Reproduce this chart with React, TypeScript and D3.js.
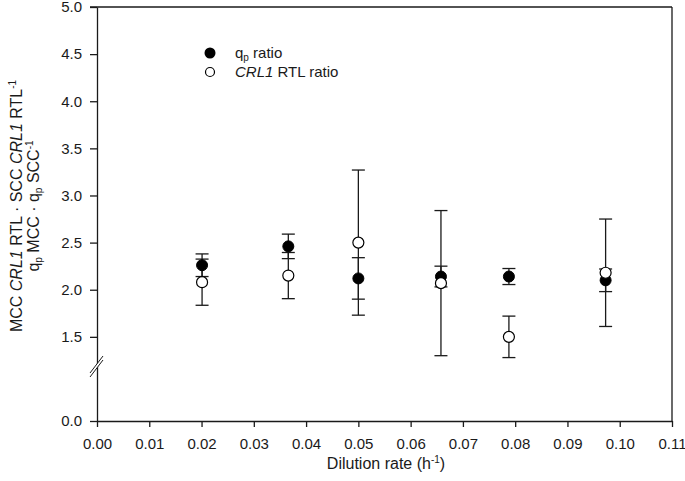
import { useEffect, useRef } from 'react';
import * as d3 from 'd3';

// dilution rate (h-1) of each run
const dilution = [0.0201, 0.0366, 0.05, 0.0658, 0.0788, 0.0973];
// qp ratio (filled) and its error
const qpRatio = [2.26, 2.46, 2.12, 2.14, 2.14, 2.1];
const qpErr = [0.12, 0.13, 0.22, 0.11, 0.085, 0.12];
// CRL1 RTL ratio (open) and its error
const crlRatio = [2.08, 2.15, 2.5, 2.07, 1.5, 2.18];
const crlErr = [0.245, 0.245, 0.77, 0.77, 0.22, 0.57];

const xTicks = [0, 0.01, 0.02, 0.03, 0.04, 0.05, 0.06, 0.07, 0.08, 0.09, 0.1, 0.11];
const yTicks = [0, 1.5, 2, 2.5, 3, 3.5, 4, 4.5, 5];

const W = 685;
const H = 481;
const FONT = '"Liberation Sans", Arial, sans-serif';
const INK = '#1a1a1a';

export default function App() {
  const svgRef = useRef<SVGSVGElement>(null);

  useEffect(() => {
    if (!svgRef.current) return;
    const svg = d3.select(svgRef.current);
    svg.selectAll('*').remove();

    const left = 97, right = 672, top = 7, bottom = 421;

    const x = d3.scaleLinear().domain([0, 0.11]).range([left, right]);
    // broken axis: 0 .. 1.18 squeezed into the bottom strip
    const y = d3.scaleLinear().domain([0, 1.18, 5]).range([bottom, 367, top]);

    const g = svg.append('g').style('font-family', FONT);

    // frame: top and right
    g.append('line')
      .attr('x1', left - 7).attr('x2', right)
      .attr('y1', top).attr('y2', top)
      .attr('stroke', INK).attr('stroke-width', 1.3);
    g.append('line')
      .attr('x1', right).attr('x2', right)
      .attr('y1', top).attr('y2', bottom)
      .attr('stroke', INK).attr('stroke-width', 1.3);

    const xAxis = d3.axisBottom(x)
      .tickValues(xTicks)
      .tickSize(6)
      .tickSizeOuter(0)
      .tickPadding(11)
      .tickFormat(d => (d as number).toFixed(2));
    const yAxis = d3.axisLeft(y)
      .tickValues(yTicks)
      .tickSize(7)
      .tickSizeOuter(0)
      .tickPadding(8)
      .tickFormat(d => (d as number).toFixed(1));

    const gx = g.append('g').attr('transform', `translate(0,${bottom})`).call(xAxis);
    const gy = g.append('g').attr('transform', `translate(${left},0)`).call(yAxis);

    [gx, gy].forEach(ax => {
      ax.selectAll('.domain').attr('stroke', INK).attr('stroke-width', 1.3);
      ax.selectAll('.tick line').attr('stroke', INK).attr('stroke-width', 1.3);
      ax.selectAll('.tick text')
        .attr('fill', INK)
        .style('font-size', '15px')
        .style('font-family', FONT);
    });

    // axis break marks
    const by = 367;
    g.append('polygon')
      .attr('points', `${left - 6},${by + 9} ${left + 6},${by - 7} ${left + 6},${by - 11} ${left - 6},${by + 5}`)
      .attr('fill', '#fff');
    [by + 9, by + 5].forEach(yy => {
      g.append('line')
        .attr('x1', left - 7).attr('y1', yy + 1)
        .attr('x2', left + 6).attr('y2', yy - 16)
        .attr('stroke', INK).attr('stroke-width', 1);
    });

    // error bars
    const cap = 6.5;
    const drawErr = (vals: number[], errs: number[]) => {
      const eg = g.append('g').attr('stroke', INK).attr('stroke-width', 1.3);
      vals.forEach((v, i) => {
        const cx = x(dilution[i]);
        const y1 = y(v + errs[i]);
        const y2 = y(v - errs[i]);
        eg.append('line').attr('x1', cx).attr('x2', cx).attr('y1', y1).attr('y2', y2);
        eg.append('line').attr('x1', cx - cap).attr('x2', cx + cap).attr('y1', y1).attr('y2', y1);
        eg.append('line').attr('x1', cx - cap).attr('x2', cx + cap).attr('y1', y2).attr('y2', y2);
      });
    };
    drawErr(qpRatio, qpErr);
    drawErr(crlRatio, crlErr);

    const r = 5.5;
    g.append('g').selectAll('circle')
      .data(qpRatio)
      .enter()
      .append('circle')
      .attr('cx', (d, i) => x(dilution[i]))
      .attr('cy', d => y(d))
      .attr('r', r)
      .attr('fill', '#000')
      .attr('stroke', '#000');
    g.append('g').selectAll('circle')
      .data(crlRatio)
      .enter()
      .append('circle')
      .attr('cx', (d, i) => x(dilution[i]))
      .attr('cy', d => y(d))
      .attr('r', r)
      .attr('fill', '#fff')
      .attr('stroke', '#000')
      .attr('stroke-width', 1.2);

    // legend
    const lg = g.append('g').style('font-size', '15px').attr('fill', INK);
    lg.append('circle').attr('cx', 210).attr('cy', 53).attr('r', r).attr('fill', '#000');
    lg.append('circle').attr('cx', 210).attr('cy', 72).attr('r', 4.5)
      .attr('fill', '#fff').attr('stroke', '#000').attr('stroke-width', 1.2);
    const t1 = lg.append('text').attr('x', 235).attr('y', 58);
    t1.append('tspan').text('q');
    t1.append('tspan').attr('dy', 3).style('font-size', '10px').text('p');
    t1.append('tspan').attr('dy', -3).text(' ratio');
    const t2 = lg.append('text').attr('x', 235).attr('y', 77);
    t2.append('tspan').style('font-style', 'italic').text('CRL1');
    t2.append('tspan').text(' RTL ratio');

    // x title
    const xt = g.append('text')
      .attr('x', 386).attr('y', 469)
      .attr('text-anchor', 'middle')
      .style('font-size', '16px')
      .attr('fill', INK);
    xt.append('tspan').text('Dilution rate (h');
    xt.append('tspan').attr('dy', -6).style('font-size', '10px').text('-1');
    xt.append('tspan').attr('dy', 6).text(')');

    // y title, two lines
    const yt1 = g.append('text')
      .attr('transform', 'translate(22,206) rotate(-90)')
      .attr('text-anchor', 'middle')
      .style('font-size', '16px')
      .attr('fill', INK);
    yt1.append('tspan').text('MCC ');
    yt1.append('tspan').style('font-style', 'italic').text('CRL1');
    yt1.append('tspan').text(' RTL · SCC ');
    yt1.append('tspan').style('font-style', 'italic').text('CRL1');
    yt1.append('tspan').text(' RTL');
    yt1.append('tspan').attr('dy', -6).style('font-size', '10px').text('-1');

    const yt2 = g.append('text')
      .attr('transform', 'translate(39,206) rotate(-90)')
      .attr('text-anchor', 'middle')
      .style('font-size', '16px')
      .attr('fill', INK);
    yt2.append('tspan').text('q');
    yt2.append('tspan').attr('dy', 3).style('font-size', '10px').text('p');
    yt2.append('tspan').attr('dy', -3).text(' MCC · q');
    yt2.append('tspan').attr('dy', 3).style('font-size', '10px').text('p');
    yt2.append('tspan').attr('dy', -3).text(' SCC');
    yt2.append('tspan').attr('dy', -6).style('font-size', '10px').text('-1');
  }, []);

  return (
    <div style={{ position: 'absolute', left: 0, top: 0 }}>
      <svg ref={svgRef} width={W} height={H} style={{ display: 'block', background: '#fff' }} />
    </div>
  );
}
